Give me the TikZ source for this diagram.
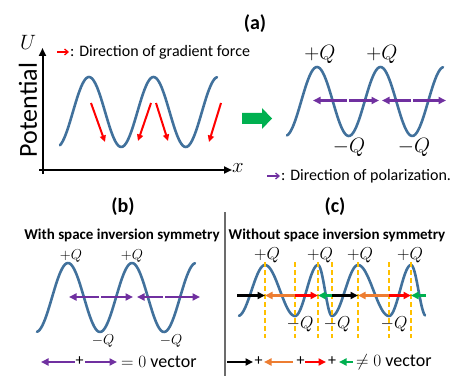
\documentclass[tikz,border=0pt]{standalone}
\usepackage{fontspec}
\setmainfont{Carlito}
\usetikzlibrary{arrows.meta}
\definecolor{wave}{RGB}{65,113,156}
\definecolor{purp}{RGB}{112,48,160}
\definecolor{gold}{RGB}{255,192,0}
\definecolor{orng}{RGB}{237,125,49}
\definecolor{grn}{RGB}{0,176,80}
\definecolor{redc}{RGB}{255,0,0}
\begin{document}
\begin{tikzpicture}[x=1pt,y=-1pt,
  wavestyle/.style={draw=wave,line width=2.6pt,line join=round,line cap=round},
  vec/.style={line width=2.2pt,-{Triangle[length=7.5pt,width=7pt]}},
  smallvec/.style={line width=2pt,-{Triangle[length=6.5pt,width=6pt]}},
  axisline/.style={line width=2pt,-{Triangle[length=8pt,width=7pt]}},
  guide/.style={draw=gold,line width=1.8pt,dash pattern=on 5pt off 3pt},
  title/.style={font=\fontsize{20}{20}\selectfont\bfseries},
  subtitle/.style={font=\fontsize{15}{15}\selectfont\bfseries},
  legendtext/.style={font=\fontsize{16}{16}\selectfont,anchor=west,inner sep=0pt},
  bigq/.style={font=\fontsize{22}{22}\selectfont,inner sep=0pt},
  midq/.style={font=\fontsize{16}{16}\selectfont,inner sep=0pt},
  smallq/.style={font=\fontsize{15}{15}\selectfont,inner sep=0pt},
  plus/.style={font=\fontsize{16}{16}\selectfont,inner sep=0pt},
  vectext/.style={font=\fontsize{18}{18}\selectfont,anchor=west,inner sep=0pt}
]
\useasboundingbox (0,0) rectangle (463,385);

% ---------- panel (a) ----------
\node[title] (ta) at (255,24) {(a)};

% axes
\coordinate (origin) at (42.5,170);
\coordinate (ytop) at (42.5,48);
\coordinate (xend) at (232,170);
\draw[axisline] (42.5,174) -- (ytop);
\draw[axisline] (39,170) -- (xend);
\node[font=\fontsize{22}{22}\selectfont] (U) at (28,42) {$U$};
\node[font=\fontsize{22}{22}\selectfont] (X) at (238,168) {$x$};
\node[rotate=90,font=\fontsize{26}{26}\selectfont,inner sep=0pt] (pot) at (28,110) {Potential};

% potential curve
\draw[wavestyle] plot[domain=60:217,samples=120] (\x,{112-35*cos((\x-89)/64.5*360)});

% gradient force arrows
\draw[smallvec,redc] (91,103) -- (105,142);
\draw[smallvec,redc] (151,103) -- (138,141);
\draw[smallvec,redc] (156,103) -- (168,141);
\draw[smallvec,redc] (221,103) -- (209,142);

% legend gradient
\draw[redc,line width=1.3pt,-{Straight Barb[length=3.5pt,width=6pt]}] (57,52) -- (69,52);
\node[legendtext] (lg1) at (70,52) {: Direction of gradient force};

% green block arrow
\fill[grn] (242,113) -- (262,113) -- (262,108) -- (272,118.5) -- (262,129) -- (262,124) -- (242,124) -- cycle;

% polarized curve
\draw[wavestyle] plot[domain=287:443,samples=120] (\x,{101.5-34.5*cos((\x-317)/63.5*360)});
\draw[vec,purp] (347,100.5) -- (313,100.5);
\draw[vec,purp] (349,100.5) -- (379,100.5);
\draw[vec,purp] (411,100.5) -- (382,100.5);
\draw[vec,purp] (413,100.5) -- (446,100.5);

\node[bigq] (qa1) at (320,54) {$+Q$};
\node[bigq] (qa2) at (382,54) {$+Q$};
\node[bigq] (qa3) at (349,147) {$-Q$};
\node[bigq] (qa4) at (414,147) {$-Q$};

% legend polarization
\draw[purp,line width=1.3pt,-{Straight Barb[length=3.5pt,width=6pt]}] (267,176) -- (280,176);
\node[legendtext] (lg2) at (281,176) {: Direction of polarization.};

% ---------- separator ----------
\draw[gray!85!black,line width=1.2pt] (225,212) -- (225,376);

% ---------- panel (b) ----------
\node[title] (tb) at (123,207) {(b)};
\node[subtitle] (sb) at (122,235) {With space inversion symmetry};

\draw[wavestyle] plot[domain=37:195,samples=120] (\x,{297.5-34.5*cos((\x-68)/64*360)});
\draw[vec,purp] (99,297) -- (69,297);
\draw[vec,purp] (101,297) -- (133,297);
\draw[vec,purp] (163,297) -- (137,297);
\draw[vec,purp] (165,297) -- (200,297);

\node[smallq] (qb1) at (71,256) {$+Q$};
\node[smallq] (qb2) at (132,256) {$+Q$};
\node[smallq] (qb3) at (103,341) {$-Q$};
\node[smallq] (qb4) at (171,341) {$-Q$};

% legend (b)
\draw[vec,purp] (75,362) -- (41,362);
\node[plus] (pb) at (79.5,361) {+};
\draw[vec,purp] (85,362) -- (117,362);
\node[vectext] (vb) at (121,362) {$=0$ vector};

% ---------- panel (c) ----------
\node[title] (tc) at (335,207) {(c)};
\node[subtitle] (sc) at (337,235) {Without space inversion symmetry};

\draw[wavestyle]
  plot[domain=239:265,samples=25] (\x,{290.5+25.5*cos((\x-238)/27*180)})
  -- plot[domain=265:295,samples=25] (\x,{290.5-25.5*cos((\x-265)/30*180)})
  -- plot[domain=295:318,samples=25] (\x,{290.5+25.5*cos((\x-295)/23*180)})
  -- plot[domain=318:332,samples=20] (\x,{290.5-25.5*cos((\x-318)/14*180)})
  -- plot[domain=332:358,samples=25] (\x,{290.5+25.5*cos((\x-332)/26*180)})
  -- plot[domain=358:389,samples=25] (\x,{290.5-25.5*cos((\x-358)/31*180)})
  -- plot[domain=389:411,samples=25] (\x,{290.5+25.5*cos((\x-389)/22*180)})
  -- plot[domain=411:425,samples=20] (\x,{290.5-25.5*cos((\x-411)/15*180)});

\foreach \gx in {265,295,318,332,358,389,411}
  \draw[guide] (\gx,262) -- (\gx,338);

\draw[vec,black] (237,295.5) -- (265,295.5);
\draw[vec,orng] (295,295.5) -- (265,295.5);
\draw[vec,redc] (295,295.5) -- (318,295.5);
\draw[vec,grn] (332,295.5) -- (318,295.5);
\draw[vec,black] (332,295.5) -- (358,295.5);
\draw[vec,orng] (389,295.5) -- (358,295.5);
\draw[vec,redc] (389,295.5) -- (411,295.5);
\draw[vec,grn] (426,295.5) -- (411,295.5);

\node[midq] (qc1) at (267,255) {$+Q$};
\node[midq] (qc2) at (320,255) {$+Q$};
\node[midq] (qc3) at (360,255) {$+Q$};
\node[midq] (qc4) at (410,255) {$+Q$};
\node[midq] (qc5) at (300,324) {$-Q$};
\node[midq] (qc6) at (337,324) {$-Q$};
\node[midq] (qc7) at (394,324) {$-Q$};

% legend (c)
\draw[vec,black] (227,362) -- (253,362);
\node[plus] (pc1) at (258.5,361) {+};
\draw[vec,orng] (293,362) -- (264,362);
\node[plus] (pc2) at (300.5,361) {+};
\draw[vec,redc] (305,362) -- (326,362);
\node[plus] (pc3) at (332,361) {+};
\draw[vec,grn] (353,362) -- (339,362);
\node[vectext] (vc) at (356,362) {$\neq 0$ vector};
\end{tikzpicture}
\end{document}
